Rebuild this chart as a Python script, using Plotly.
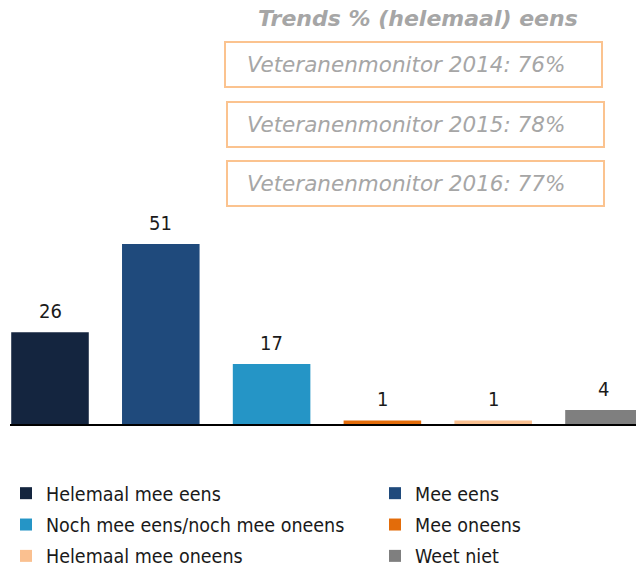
import plotly.graph_objects as go

categories = ["Helemaal mee eens", "Mee eens", "Noch mee eens/noch mee oneens",
              "Mee oneens", "Helemaal mee oneens", "Weet niet"]
values = [26, 51, 17, 1, 1, 4]
colors = ["#14253F", "#1F4A7C", "#2595C6", "#E36C0A", "#FAC090", "#7F7F7F"]
legend_column = ["legend", "legend2", "legend", "legend2", "legend", "legend2"]

title_text = "Trends % (helemaal) eens"
trend_labels = ["Veteranenmonitor 2014: 76%",
                "Veteranenmonitor 2015: 78%",
                "Veteranenmonitor 2016: 77%"]

FONT = "DejaVu Sans Condensed, DejaVu Sans, sans-serif"
FONT_W = "DejaVu Sans, Verdana, sans-serif"

fig = go.Figure()
for i, (cat, val, col, lg) in enumerate(zip(categories, values, colors, legend_column)):
    fig.add_trace(go.Bar(x=[cat], y=[val], name=cat, marker=dict(color=col, line=dict(width=0)),
                         width=0.7, hoverinfo="skip", legend=lg, legendgroup="g%d" % i))
    fig.add_annotation(x=cat, y=val, text=str(val), showarrow=False, yanchor="middle",
                       yshift=21, font=dict(family=FONT, size=20, color="#1a1a1a"))

# title and trend boxes (paper coords)
W, H0 = 626.0, 424.0
def px_x(p):
    return (p - 10) / W
def px_y(p):
    return (424 - p) / H0

fig.add_annotation(xref="paper", yref="paper", x=px_x(418), y=px_y(18), text="<b><i>" + title_text + "</i></b>",
                   showarrow=False, xanchor="center", yanchor="middle",
                   font=dict(family=FONT_W, size=22, color="#A6A6A6"))

boxes = [(225, 602, 42, 87), (227, 604, 102, 147), (227, 604, 161, 206)]
for (x0, x1, y0, y1), lab in zip(boxes, trend_labels):
    fig.add_shape(type="rect", xref="paper", yref="paper",
                  x0=px_x(x0), x1=px_x(x1), y0=px_y(y1), y1=px_y(y0),
                  line=dict(color="#FBC38F", width=2), fillcolor="rgba(0,0,0,0)")
    fig.add_annotation(xref="paper", yref="paper", x=px_x(245), y=px_y((y0 + y1) / 2),
                       text="<i>" + lab + "</i>", showarrow=False, xanchor="left", yanchor="middle",
                       font=dict(family=FONT_W, size=21.5, color="#A6A6A6"))

legend_style = dict(orientation="v", xanchor="left", yanchor="top",
                    font=dict(family=FONT, size=19.5, color="#1a1a1a"),
                    bgcolor="rgba(0,0,0,0)", traceorder="grouped", tracegroupgap=3)

fig.update_layout(
    width=636, height=569,
    margin=dict(l=10, r=0, t=0, b=145, autoexpand=False),
    paper_bgcolor="white", plot_bgcolor="white",
    barmode="overlay",
    showlegend=True,
    legend=dict(x=px_x(6), y=px_y(474), **legend_style),
    legend2=dict(x=px_x(375), y=px_y(474), **legend_style),
    xaxis=dict(showticklabels=False, showgrid=False, zeroline=False, showline=True,
               linecolor="#000000", linewidth=2, ticks="", range=[-0.361, 5.289],
               categoryorder="array", categoryarray=categories),
    yaxis=dict(visible=False, range=[0, 120.1], showgrid=False),
)

fig.write_html("out.html", config={"displayModeBar": False},
               post_script="document.body.style.margin='0';")
